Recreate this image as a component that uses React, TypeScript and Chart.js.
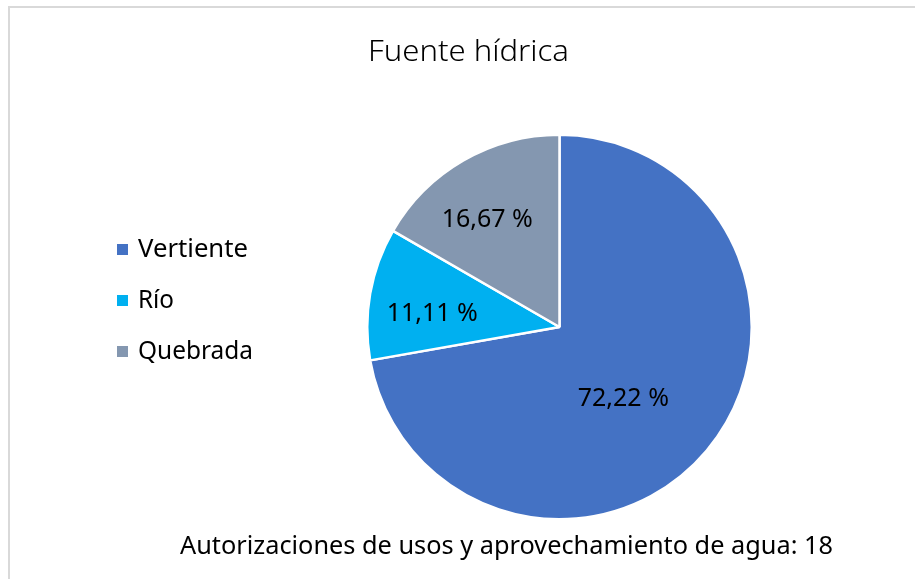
import React, { useEffect, useRef } from "react";
import { Chart, registerables } from "chart.js";

Chart.register(...registerables);

const TITLE = "Fuente hídrica";
const FOOTER = "Autorizaciones de usos y aprovechamiento de agua: 18";
const categories = ["Vertiente", "Río", "Quebrada"];
const counts = [13, 2, 3];
const percentLabels = ["72,22 %", "11,11 %", "16,67 %"];
const colors = ["#4472C4", "#00B0F0", "#8497B0"];

const W = 915;
const H = 579;

const textPlugin = {
  id: "textPlugin",
  afterDatasetsDraw(chart: any, _args: any, opts: any) {
    const ctx = chart.ctx as CanvasRenderingContext2D;
    const meta = chart.getDatasetMeta(0);
    ctx.save();
    // data labels
    ctx.fillStyle = "#000000";
    ctx.font = "25px 'Noto Sans'";
    ctx.textAlign = "center";
    ctx.textBaseline = "middle";
    meta.data.forEach((arc: any, i: number) => {
      const p = arc.getProps(["x", "y", "startAngle", "endAngle", "outerRadius"], true);
      const mid = (p.startAngle + p.endAngle) / 2 + (opts.angleShift[i] * Math.PI) / 180;
      const r = p.outerRadius * opts.radialFraction[i];
      ctx.fillText(percentLabels[i], p.x + Math.cos(mid) * r, p.y + Math.sin(mid) * r);
    });

    const drawFit = (text: string, x: number, baseline: number, font: string, width: number, align: "center" | "left") => {
      ctx.save();
      ctx.font = font;
      ctx.textAlign = align;
      ctx.textBaseline = "alphabetic";
      const sx = width / ctx.measureText(text).width;
      ctx.translate(x, baseline);
      ctx.scale(sx, 1);
      ctx.fillText(text, 0, 0);
      ctx.restore();
    };
    ctx.fillStyle = "#000000";
    drawFit(TITLE, 468.5, 61, "300 30px 'Noto Sans'", 201, "center");
    drawFit(FOOTER, 506.5, 554, "25px 'Noto Sans'", 653, "center");

    // legend
    const legendWidths = opts.legendWidths;
    categories.forEach((c, i) => {
      const base = 257 + i * 51;
      ctx.fillStyle = colors[i];
      ctx.fillRect(117, base - 13, 11, 11);
      ctx.fillStyle = "#000000";
      drawFit(c, 138, base, "25px 'Noto Sans'", legendWidths[i], "left");
    });
    ctx.restore();
  },
};

export default function App() {
  const ref = useRef<HTMLCanvasElement | null>(null);
  useEffect(() => {
    if (!ref.current) return;
    const chart = new Chart(ref.current, {
      type: "pie",
      data: {
        labels: categories,
        datasets: [
          {
            data: counts,
            backgroundColor: colors,
            borderColor: "#ffffff",
            borderWidth: 2.5,
          },
        ],
      },
      options: {
        responsive: false,
        animation: false,
        devicePixelRatio: 1,
        layout: { padding: { left: 366, top: 133, right: 162, bottom: 58 } },
        plugins: {
          legend: { display: false },
          title: { display: false },
          tooltip: { enabled: false },
          textPlugin: {
            radialFraction: [0.5, 0.665, 0.67],
            angleShift: [8.4, -4.2, -4.1],
            legendWidths: [110, 36, 115],
          },
        } as any,
      },
      plugins: [textPlugin],
    });
    return () => chart.destroy();
  }, []);
  return (
    <div style={{ position: "fixed", left: 0, top: 0, width: W, height: H, background: "#ffffff", overflow: "hidden" }}>
      <div
        style={{
          position: "absolute",
          left: 8,
          top: 6,
          width: W,
          height: H,
          borderTop: "2px solid #d9d9d9",
          borderLeft: "2px solid #d9d9d9",
        }}
      />
      <canvas ref={ref} width={W} height={H} style={{ position: "absolute", left: 0, top: 0, width: W, height: H }} />
    </div>
  );
}
